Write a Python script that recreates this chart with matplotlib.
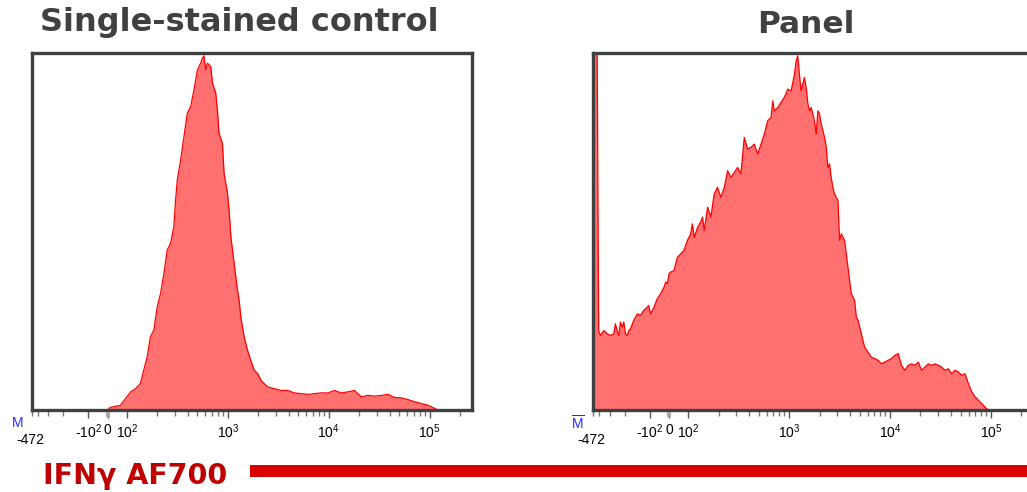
import numpy as np
import matplotlib
matplotlib.use("Agg")
import matplotlib.pyplot as plt
from matplotlib.lines import Line2D

# histogram data, x = fluorescence intensity, y = % of max count
left_x = [-3, 14, 40, 66, 93, 109, 122, 136, 147, 159, 171, 185, 200, 216, 233, 251, 271, 292, 304, 316,
          341, 368, 397, 429, 462, 500, 538, 560, 581, 604, 628, 678, 705, 760, 789, 818, 885, 918, 993, 1030,
          1072, 1156, 1247, 1294, 1346, 1452, 1570, 1690, 1824, 1972, 2128, 2296, 2483, 2884, 3365, 3917, 4560,
          5309, 6194, 7211, 8395, 9795, 11400, 13280, 15490, 17990, 20990, 24430, 28440, 33190, 38640, 44980,
          52480, 61090, 71120, 82790, 96610, 112500, 121300]
left_y = [0, 0.8, 1.1, 1.4, 3.3, 5.2, 6.1, 7.5, 11.3, 15.1, 20.7, 22.6, 29.2, 33.0, 38.6, 45.2, 47.1, 51.8, 59.3, 65.0,
          70.6, 77.2, 83.8, 85.7, 90.4, 96.0, 97.9, 99.3, 100, 96.0, 97.9, 97.0, 92.3, 89.5, 84.7, 78.2, 75.3, 66.9, 61.2, 56.5,
          49.0, 41.4, 33.9, 31.1, 26.4, 20.7, 16.9, 14.1, 11.3, 10.4, 8.5, 7.5, 6.6, 6.1, 5.6, 5.6, 4.9,
          4.7, 4.5, 4.7, 4.9, 4.9, 5.6, 4.9, 5.2, 5.6, 3.8, 4.2, 4.0, 4.2, 4.5, 3.6,
          3.5, 3.0, 2.4, 1.9, 1.4, 0.5, 0]

right_x = [-472, -407, -388, -354, -322, -295, -269, -257, -245, -234, -224, -213, -204, -195, -186, -178, -170,
           -155, -141, -129, -118, -107, -103, -96, -87, -78, -61, -43, -35, -26, -17, -8, 0, 9, 26, 44, 61, 78, 96,
           106, 110, 115, 124, 133, 139, 144, 156, 168, 181, 195, 211, 228, 246, 265, 286, 309, 333, 360, 388, 419,
           452, 489, 527, 568, 614, 662, 689, 714, 773, 832, 897, 970, 1047, 1130, 1175, 1219, 1265, 1315, 1368,
           1419, 1476, 1535, 1592, 1656, 1782, 1854, 1928, 2000, 2080, 2163, 2244, 2333, 2421, 2518, 2612, 2716,
           2818, 3048, 3162, 3289, 3548, 3828, 4130, 4457, 4634, 4819, 5200, 5395, 5598, 6053, 6531, 7047, 7621,
           8204, 8851, 9572, 10330, 11140, 12020, 12970, 14000, 15140, 16330, 17620, 19010, 20510, 22130, 23930,
           25760, 27800, 30060, 32430, 34990, 37760, 40740, 43950, 47530, 51290, 55340, 59700, 64420, 69500,
           75160, 80910, 87300, 94410]
right_y = [300, 22.5, 21.1, 22.5, 21.6, 21.1, 21.6, 24.4, 22.5, 21.1, 24.9, 23.5, 24.9, 21.6, 21.1, 22.5, 23.0,
           25.4, 27.2, 26.8, 28.2, 29.1, 29.6, 27.2, 28.2, 29.1, 31.5, 32.9, 33.8, 34.7, 36.2, 35.7, 38.5, 39.0, 39.4, 43.2, 44.1, 45.1, 47.9,
           49.8, 52.6, 48.8, 51.6, 53.1, 54.5, 50.7, 57.3, 54.5, 61.0, 62.9, 60.1, 62.9, 67.6, 65.7, 67.1, 68.5, 66.7, 77.0, 73.7, 74.2,
           75.1, 72.3, 75.1, 77.9, 81.7, 82.6, 87.3, 84.5, 85.4, 86.9, 88.3, 90.6, 90.1, 94.8, 98.6, 100, 94.8, 90.1, 92.0,
           93.9, 91.1, 86.4, 84.5, 85.4, 81.7, 77.9, 84.5, 83.6, 80.8, 78.9, 77.0, 74.2, 68.5, 69.5, 65.7, 62.9,
           61.0, 59.2, 47.9, 49.8, 47.9, 40.4, 32.9, 31.0, 26.3, 25.4, 21.6, 19.7, 17.8, 16.4, 15.0, 14.6, 14.1,
           13.1, 13.6, 14.1, 14.6, 15.5, 16.0, 12.7, 11.3, 12.7, 13.1, 12.7, 13.6, 11.3, 12.2, 13.1,
           12.7, 13.1, 12.7, 12.2, 11.3, 11.7, 10.3, 11.3, 10.8, 9.9, 10.3, 7.5, 5.2, 3.8,
           2.8, 1.9, 0.9, 0]

titles = ["Single-stained control", "Panel"]
major_ticks = [-100, 0, 100, 1000, 10000, 100000]
major_labels = ["-$\\mathregular{10^2}$", "0", "$\\mathregular{10^2}$", "$\\mathregular{10^3}$",
                "$\\mathregular{10^4}$", "$\\mathregular{10^5}$"]
x_min, x_max = -472, 262144
axis_title = "IFN\u03b3 AF700"

# biexponential-like display scale: linear around zero, log above 100, squeezed log below -100
LIN = 0.19
NEG = 0.83


def fwd(x):
    x = np.asarray(x, dtype=float)
    a = np.maximum(np.abs(x), 1e-9)
    pos = LIN + np.log10(np.maximum(a, 100) / 100)
    neg = -(LIN + NEG * np.log10(np.maximum(a, 100) / 100))
    return np.where(np.abs(x) <= 100, x / 100 * LIN, np.where(x > 0, pos, neg))


def inv(u):
    u = np.asarray(u, dtype=float)
    pos = 100 * 10 ** (np.maximum(u, LIN) - LIN)
    neg = -100 * 10 ** ((np.maximum(-u, LIN) - LIN) / NEG)
    return np.where(np.abs(u) <= LIN, u / LIN * 100, np.where(u > 0, pos, neg))


minor_ticks = [-472, -400, -300, -200]
for dec in [100, 1000, 10000, 100000]:
    for k in range(2, 10):
        if dec * k < x_max:
            minor_ticks.append(dec * k)

plt.rcParams['font.family'] = ['DejaVu Sans']
plt.rcParams['mathtext.fontset'] = 'custom'
plt.rcParams['mathtext.rm'] = 'Liberation Sans'

W, H = 1027, 492
fig = plt.figure(figsize=(W / 100, H / 100), dpi=100)

panels = [(left_x, left_y, 32.0), (right_x, right_y, 593.3)]
for xs, ys, left_px in panels:
    ax = fig.add_axes([left_px / W, (H - 410.3) / H, 440.0 / W, (410.3 - 53.0) / H])
    ax.set_xscale('function', functions=(fwd, inv))
    ax.fill_between(xs, ys, 0, color='#ff7070', lw=0)
    ax.plot(xs, ys, color='#ff0000', lw=0.9)
    ax.set_xlim(x_min, x_max)
    ax.set_ylim(0, 100.8)
    ax.set_yticks([])
    ax.set_xticks(major_ticks)
    ax.set_xticklabels(major_labels, fontsize=10, family='Liberation Sans')
    ax.set_xticks(minor_ticks, minor=True)
    ax.tick_params(axis='x', which='major', length=6, width=1, color='#555555', pad=3)
    ax.tick_params(axis='x', which='minor', length=4, width=1, color='#777777')
    # zero tick is drawn grey and wide
    ax.plot([0, 0], [-0.0045, -0.018], transform=ax.get_xaxis_transform(), color='#a8a8a8',
            lw=3, clip_on=False, zorder=6, solid_capstyle='butt')
    for sp in ax.spines.values():
        sp.set_color('#404040')
        sp.set_linewidth(2.4)
        sp.set_zorder(5)

# range-minimum labels under each panel
fig.text(17.5 / W, 1 - 423 / H, "M", color='#2a2aff', fontsize=10, family='Liberation Sans',
         ha='center', va='center')
fig.text(577.5 / W, 1 - 423 / H, "$\\overline{\\mathrm{M}}$", color='#2a2aff', fontsize=10,
         ha='center', va='center')
for xp in [30, 591.5]:
    fig.text(xp / W, 1 - 440 / H, "-472", color='black', fontsize=10, family='Liberation Sans',
             ha='center', va='center')

# titles
fig.text(239 / W, 1 - 31 / H, titles[0], fontsize=23, fontweight='bold', color='#404040',
         ha='center', va='baseline')
fig.text(806 / W, 1 - 33 / H, titles[1], fontsize=22.5, fontweight='bold', color='#404040',
         ha='center', va='baseline')

# axis label and red bar
fig.text(43 / W, 1 - 484 / H, axis_title, fontsize=20.5, fontweight='bold', color='#c00000',
         ha='left', va='baseline')
fig.add_artist(Line2D([250 / W, 1.0], [1 - 471 / H, 1 - 471 / H], transform=fig.transFigure,
                      color='#d90000', lw=8.6, solid_capstyle='butt'))

fig.savefig('out.png', dpi=100)
